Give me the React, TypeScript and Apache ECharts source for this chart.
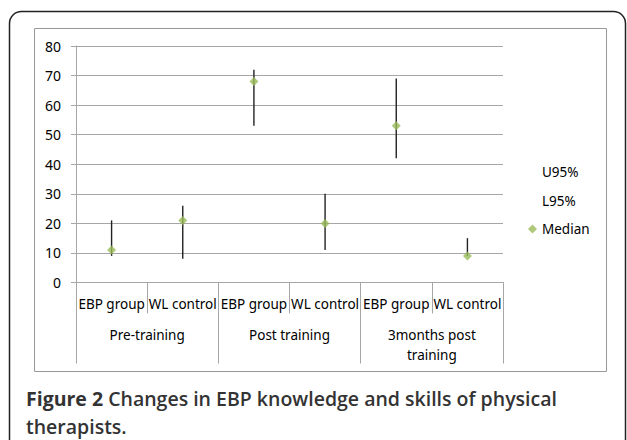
import React, { useEffect, useRef } from "react";
import * as echarts from "echarts";

const subCategories = ["EBP group", "WL control", "EBP group", "WL control", "EBP group", "WL control"];
const groupCategories = ["Pre-training", "Post training", "3months post\ntraining"];
const u95 = [21, 26, 72, 30, 69, 15];
const l95 = [9, 8, 53, 11, 42, 9];
const median = [11, 21, 68, 20, 53, 9];
const yTicks = { min: 0, max: 80, interval: 10 };

const FONT = "Noto Sans";
const AXIS_GRAY = "#a6a6a6";

export default function App() {
  const ref = useRef<HTMLDivElement>(null);
  useEffect(() => {
    if (!ref.current) return;
    const chart = echarts.init(ref.current, null, { renderer: "svg" });
    const option: any = {
      animation: false,
      backgroundColor: "#ffffff",
      grid: { left: 76, right: 124, top: 46, bottom: 157.5, containLabel: false },
      legend: {
        orient: "vertical",
        left: 523,
        top: 159,
        itemWidth: 9,
        itemHeight: 9,
        itemGap: 12.5,
        selectedMode: false,
        textStyle: { fontFamily: FONT, fontSize: 13.5, color: "#000", lineHeight: 16 },
        data: [
          { name: "U95%", icon: "rect", itemStyle: { opacity: 0 }, lineStyle: { opacity: 0 } },
          { name: "L95%", icon: "rect", itemStyle: { opacity: 0 }, lineStyle: { opacity: 0 } },
          { name: "Median", icon: "diamond", itemStyle: { color: "#9bbb59" } },
        ],
      },
      xAxis: [
        {
          type: "category",
          data: subCategories,
          position: "bottom",
          boundaryGap: true,
          axisLine: { show: true, lineStyle: { color: AXIS_GRAY, width: 1 } },
          axisTick: { show: true, length: 31, interval: 0, lineStyle: { color: AXIS_GRAY } },
          axisLabel: { interval: 0, margin: 11, fontFamily: FONT, fontSize: 13.5, color: "#000", lineHeight: 20 },
          splitLine: { show: false },
        },
        {
          type: "category",
          data: groupCategories,
          position: "bottom",
          boundaryGap: true,
          axisLine: { show: false },
          axisTick: { show: true, length: 81, interval: 0, lineStyle: { color: AXIS_GRAY } },
          axisLabel: { interval: 0, margin: 42, fontFamily: FONT, fontSize: 13.5, color: "#000", lineHeight: 20 },
          splitLine: { show: false },
        },
      ],
      yAxis: {
        type: "value",
        min: yTicks.min,
        max: yTicks.max,
        interval: yTicks.interval,
        axisLine: { show: true, lineStyle: { color: AXIS_GRAY, width: 1 } },
        axisTick: { show: true, length: 5, lineStyle: { color: AXIS_GRAY } },
        axisLabel: { margin: 15, fontFamily: FONT, fontSize: 14, color: "#000" },
        splitLine: { show: true, lineStyle: { color: AXIS_GRAY, width: 1 } },
      },
      series: [
        {
          name: "U95%",
          type: "line",
          data: u95,
          symbol: "none",
          lineStyle: { opacity: 0, width: 0 },
          silent: true,
        },
        {
          name: "L95%",
          type: "line",
          data: l95,
          symbol: "none",
          lineStyle: { opacity: 0, width: 0 },
          silent: true,
        },
        {
          name: "hilo",
          type: "custom",
          xAxisIndex: 0,
          data: subCategories.map((_, i) => [i, l95[i], u95[i]]),
          renderItem: (params: any, api: any) => {
            const x = api.value(0);
            const lo = api.coord([x, api.value(1)]);
            const hi = api.coord([x, api.value(2)]);
            return {
              type: "line",
              shape: { x1: lo[0], y1: lo[1], x2: hi[0], y2: hi[1] },
              style: { stroke: "#222", lineWidth: 1.4 },
            };
          },
          z: 2,
        },
        {
          name: "Median",
          type: "scatter",
          data: median,
          symbol: "diamond",
          symbolSize: 9,
          itemStyle: { color: "#9bbb59" },
          z: 3,
        },
      ],
      graphic: [
        {
          type: "rect",
          shape: { x: 9.5, y: 11.5, width: 616, height: 470, r: 12 },
          style: { fill: "none", stroke: "#222", lineWidth: 1.5 },
          silent: true,
        },
        {
          type: "rect",
          shape: { x: 34.5, y: 28.5, width: 572, height: 343 },
          style: { fill: "none", stroke: "#999", lineWidth: 1 },
          silent: true,
        },
        {
          type: "text",
          x: 26,
          y: 398,
          style: {
            text: "{b|Figure 2} {m|Changes in EBP knowledge and skills of physical}",
            verticalAlign: "middle",
            rich: {
              b: { fontFamily: "Open Sans", fontWeight: 700, fontSize: 19.5, fill: "#333" },
              m: { fontFamily: "Open Sans", fontWeight: 600, fontSize: 19.5, fill: "#333" },
            },
            fontFamily: "Open Sans",
            fontSize: 19.5,
            fill: "#333",
          },
        },
        {
          type: "text",
          x: 26,
          y: 426,
          style: {
            text: "therapists.",
            verticalAlign: "middle",
            fontFamily: "Open Sans",
            fontWeight: 600,
            fontSize: 19.5,
            fill: "#333",
          },
        },
      ],
    };
    chart.setOption(option);
    return () => chart.dispose();
  }, []);
  return (
    <div
      ref={ref}
      style={{ position: "fixed", left: 0, top: 0, width: 627, height: 440, background: "#fff" }}
    />
  );
}
